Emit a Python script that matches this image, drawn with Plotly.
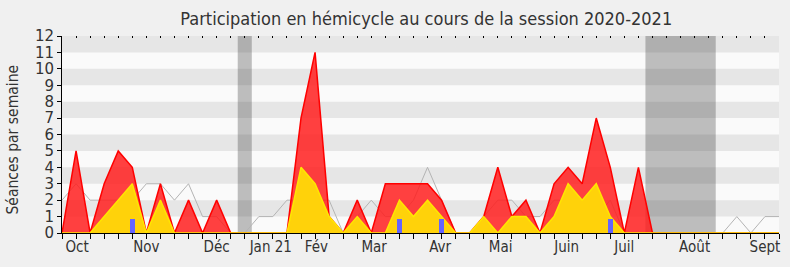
import plotly.graph_objects as go

weeks = list(range(52))
total = [0, 5, 0, 3, 5, 4, 0, 3, 0, 2, 0, 2, 0,
         0, 0, 0, 0, 7, 11, 1, 0, 2, 0, 3, 3, 3,
         3, 2, 0, 0, 1, 4, 1, 2, 0, 3, 4, 3, 7,
         4, 0, 4, 0, 0, 0, 0, 0, 0, 0, 0, 0, 0]
presence = [0, 0, 0, 1, 2, 3, 0, 2, 0, 0, 0, 0, 0,
            0, 0, 0, 0, 4, 3, 1, 0, 1, 0, 0, 2, 1,
            2, 1, 0, 0, 1, 0, 1, 1, 0, 1, 3, 2, 3,
            1, 0, 0, 0, 0, 0, 0, 0, 0, 0, 0, 0, 0]
median = [2, 3, 2, 2, 2, 2, 3, 3, 2, 3, 1, 1, 0,
          0, 1, 1, 2, 2, 2, 2, 0, 1, 2, 1, 1, 2,
          4, 2, 0, 0, 1, 2, 2, 1, 1, 2, 2, 1, 1,
          2, 0, 0, 0, 0, 0, 0, 0, 0, 1, 0, 1, 1]
question_weeks = [5, 24, 27, 39]
question_vals = [0.85, 0.85, 0.85, 0.85]
vacations = [(12.5, 13.5), (41.5, 46.5)]
month_pos = [1.07, 6, 11, 14.85, 18.1, 22.2, 26.9, 31.2, 35.9, 40, 45, 50]
month_labels = ["Oct", "Nov", "Déc", "Jan 21", "Fév", "Mar", "Avr", "Mai",
                "Juin", "Juil", "Août", "Sept"]

FONT = "DejaVu Sans Condensed, DejaVu Sans, sans-serif"
FONT_WIDE = "DejaVu Sans, sans-serif"

fig = go.Figure()
fig.add_trace(go.Scatter(x=weeks, y=median, mode="lines",
                         line=dict(color="#b4b4b4", width=1), hoverinfo="skip"))
fig.add_trace(go.Scatter(x=weeks, y=total, mode="lines", fill="tozeroy",
                         fillcolor="rgba(255,30,30,0.85)",
                         line=dict(color="#ff0000", width=1.5)))
fig.add_trace(go.Scatter(x=weeks, y=presence, mode="lines", fill="tozeroy",
                         fillcolor="#ffd20a",
                         line=dict(color="#ffe600", width=1.5)))
fig.add_trace(go.Bar(x=question_weeks, y=question_vals, width=0.33,
                     marker=dict(color="#6464ff", line=dict(width=0)),
                     xaxis="x2", yaxis="y2"))
fig.add_trace(go.Scatter(x=[0, 51], y=[None, None], xaxis="x3", yaxis="y",
                         mode="lines", showlegend=False, hoverinfo="skip"))

shapes = []
for k in range(1, 12, 2):
    shapes.append(dict(type="rect", xref="x", yref="y", x0=0, x1=51,
                       y0=k, y1=k + 1, fillcolor="#e6e6e6",
                       line=dict(width=0), layer="below"))
for a, b in vacations:
    shapes.append(dict(type="rect", xref="x", yref="y", x0=a, x1=b,
                       y0=0, y1=12, fillcolor="rgba(50,50,50,0.3)",
                       line=dict(width=0), layer="below"))

fig.update_layout(
    width=790, height=267,
    margin=dict(l=62, r=11, t=36, b=34, autoexpand=False),
    paper_bgcolor="#f0f0f0", plot_bgcolor="#fafafa",
    showlegend=False,
    shapes=shapes,
    font=dict(family=FONT, size=15, color="#333333"),
    title=dict(text="Participation en hémicycle au cours de la session 2020-2021",
               xref="paper", x=0.508, xanchor="center",
               yref="container", y=0.93, yanchor="middle",
               font=dict(family=FONT, size=18, color="#333333")),
    xaxis=dict(range=[0, 51], tickmode="array", tickvals=month_pos,
               ticktext=month_labels, ticks="", ticklen=0,
               showgrid=False, zeroline=False,
               showline=True, linecolor="#000000", linewidth=1,
               automargin=False,
               tickfont=dict(size=15, color="#333333")),
    xaxis2=dict(range=[0, 51], overlaying="x", anchor="y", side="bottom",
                tickmode="linear", tick0=0, dtick=1, ticks="outside",
                ticklen=5, tickcolor="#000000", showticklabels=False,
                showgrid=False, zeroline=False, showline=False,
                automargin=False),
    xaxis3=dict(range=[0, 51], overlaying="x", anchor="y", side="top",
                tickmode="linear", tick0=0, dtick=1, ticks="inside",
                ticklen=2, tickcolor="#000000", showticklabels=False,
                showgrid=False, zeroline=False, showline=False,
                automargin=False),
    yaxis=dict(range=[0, 12], tickmode="linear", tick0=0, dtick=1,
               ticks="outside", ticklen=4, tickcolor="#000000",
               showgrid=False, zeroline=False, showline=True,
               linecolor="#000000", linewidth=1, automargin=False,
               tickfont=dict(family=FONT_WIDE, size=15, color="#333333")),
    yaxis2=dict(range=[0, 12], overlaying="y", anchor="x", visible=False),
    bargap=0,
    annotations=[dict(text="Séances par semaine", textangle=-90,
                      xref="paper", yref="paper", x=-0.069, y=0.472,
                      xanchor="center", yanchor="middle", showarrow=False,
                      font=dict(family=FONT, size=15.5, color="#333333"))],
)

fig.write_html("out.html")
